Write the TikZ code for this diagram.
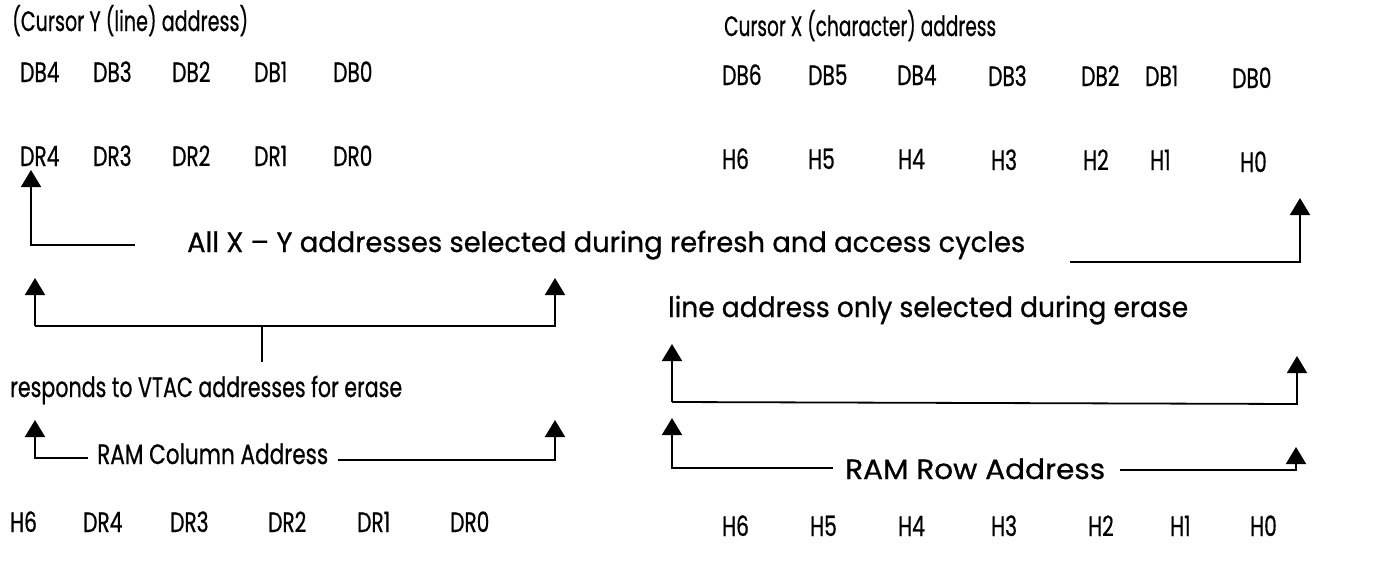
\documentclass[tikz,border=0pt]{standalone}
\usepackage{fontspec}
\usepackage{graphicx}
\setmainfont{Poppins}
\newfontfamily\lblfont[FakeStretch=0.72,FakeBold=0.6]{Poppins}
\usetikzlibrary{arrows.meta}
\newcommand{\fitto}[2]{\resizebox{#1pt}{\height}{#2}}
\begin{document}
\begin{tikzpicture}[x=1pt,y=-1pt,
  lbl/.style={anchor=base west,inner sep=0pt,font=\lblfont\fontsize{28}{31}\selectfont},
  wire/.style={line width=1.8pt},
  arr/.style={wire,-{Triangle[width=20pt,length=17pt]}}]
\useasboundingbox (0,0) rectangle (1376,562);
% titles
\node[lbl] (ty) at (12,31) {\fitto{236}{(Cursor Y (line) address)}};
\node[lbl] (tx) at (724,36) {\fitto{272}{Cursor X (character) address}};
% DB row left
\foreach \n/\x in {4/20,3/93,2/172,1/254,0/333}
  \node[lbl] (ldb\n) at (\x,82) {DB\n};
% DB row right
\foreach \n/\x/\y in {6/722/85,5/808/85,4/897/85,3/988/86,2/1081/86,1/1145/86,0/1232/88}
  \node[lbl] (rdb\n) at (\x,\y) {DB\n};
% DR row left
\foreach \n/\x in {4/20,3/93,2/172,1/254,0/333}
  \node[lbl] (ldr\n) at (\x,166) {DR\n};
% H row right
\foreach \n/\x/\y in {6/722/169,5/808/169,4/898/169,3/991/170,2/1083/170,1/1150/170,0/1240/172}
  \node[lbl] (rh\n) at (\x,\y) {H\n};
% middle labels
\node[lbl] (allxy) at (187,252) {\fitto{838}{All X – Y addresses selected during refresh and access cycles}};
\node[lbl] (lineonly) at (668,317) {\fitto{520}{line address only selected during erase}};
\node[lbl] (vtac) at (10,397) {\fitto{392}{responds to VTAC addresses for erase}};
\node[lbl] (ramcol) at (97,464) {\fitto{231}{RAM Column Address}};
\node[lbl] (ramrow) at (845,479) {\fitto{260}{RAM Row Address}};
% bottom rows
\node[lbl] (bh6) at (10,532) {H6};
\foreach \n/\x in {4/83,3/170,2/268,1/357,0/450}
  \node[lbl] (bdr\n) at (\x,532) {DR\n};
\foreach \n/\x in {6/722,5/810,4/898,3/991,2/1088,1/1170,0/1250}
  \node[lbl] (bh\n r) at (\x,536) {H\n};
% connector coordinates
\coordinate (t1) at (31,170);
\coordinate (c1) at (31,245);
\coordinate (e1) at (135,245);
\coordinate (e2) at (1070,262);
\coordinate (c2) at (1300,262);
\coordinate (t2) at (1300,198);
\coordinate (t3a) at (35,278);
\coordinate (c3a) at (35,326);
\coordinate (c3b) at (555,326);
\coordinate (t3b) at (555,278);
\coordinate (s3) at (262,326);
\coordinate (s3e) at (262,362);
\coordinate (t4a) at (35,420);
\coordinate (c4a) at (35,458);
\coordinate (e4a) at (88,458);
\coordinate (e4b) at (338,460);
\coordinate (c4b) at (555,460);
\coordinate (t4b) at (555,420);
\coordinate (t5a) at (672,344);
\coordinate (c5a) at (672,402);
\coordinate (c5b) at (1297,404);
\coordinate (t5b) at (1297,356);
\coordinate (t6a) at (672,418);
\coordinate (c6a) at (672,468);
\coordinate (e6a) at (833,468);
\coordinate (e6b) at (1120,470);
\coordinate (c6b) at (1296,470);
\coordinate (t6b) at (1296,447);
% connectors
\draw[arr] (e1) -- (c1) -- (t1);
\draw[arr] (e2) -- (c2) -- (t2);
\draw[arr] (c3a) -- (t3a);
\draw[arr] (c3a) -- (c3b) -- (t3b);
\draw[wire] (s3) -- (s3e);
\draw[arr] (e4a) -- (c4a) -- (t4a);
\draw[arr] (e4b) -- (c4b) -- (t4b);
\draw[arr] (c5a) -- (t5a);
\draw[arr] (c5a) -- (c5b) -- (t5b);
\draw[arr] (e6a) -- (c6a) -- (t6a);
\draw[arr] (e6b) -- (c6b) -- (t6b);
\end{tikzpicture}
\end{document}
